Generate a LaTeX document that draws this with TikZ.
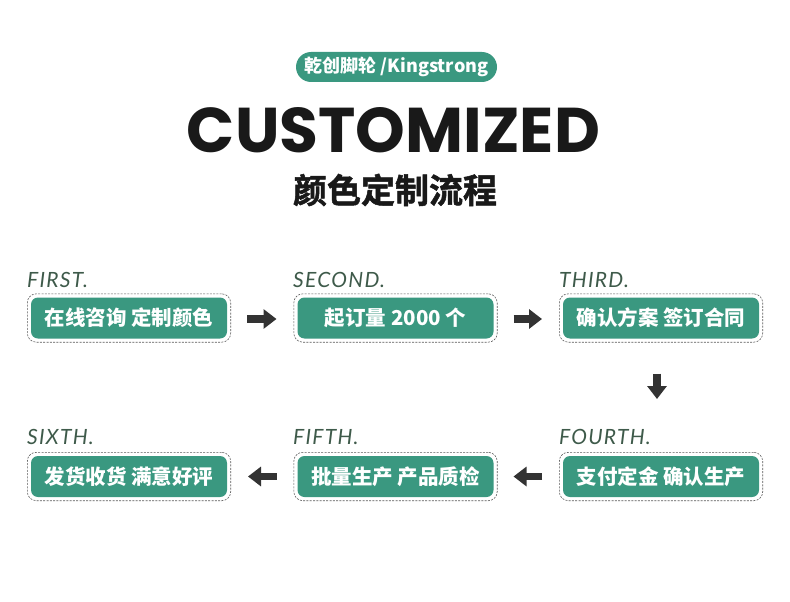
\documentclass[tikz,border=0pt]{standalone}
\usepackage{fontspec}
\usepackage{graphicx}
\usetikzlibrary{fit,arrows.meta,calc}
\newfontfamily\cjk{Noto Sans CJK SC}
\newfontfamily\cjkheavy[FakeBold=1.5]{Noto Sans CJK SC Bold}
\newfontfamily\poppins{Poppins}
\newfontfamily\lato[LetterSpace=6]{Lato}
\definecolor{kgreen}{RGB}{58,152,128}
\definecolor{klabel}{RGB}{62,90,74}
\definecolor{karrow}{RGB}{51,51,51}
\definecolor{kdash}{RGB}{90,90,90}
\begin{document}
\begin{tikzpicture}[x=1pt,y=-1pt,
  greenbox/.style={fill=kgreen,rounded corners=7pt,minimum width=196pt,minimum height=41pt,
    inner sep=0pt,text=white,font=\cjk\bfseries\fontsize{20.5}{22}\selectfont},
  dashbox/.style={draw=kdash,dash pattern=on 2pt off 1.3pt,line width=0.6pt,rounded corners=9pt,inner sep=3.5pt},
  steplabel/.style={anchor=base west,inner sep=0pt,text=klabel,font=\lato\itshape\fontsize{21}{23}\selectfont},
  flowarrow/.style={draw=karrow,line width=7.5pt,-{Triangle[length=13pt,width=19pt]}}
]
\useasboundingbox[fill=white] (0,0) rectangle (790,602);

% header
\node[fill=kgreen,rounded corners=15pt,minimum width=201pt,minimum height=30pt,inner sep=0pt,
  text=white,font=\cjk\bfseries\fontsize{18}{20}\selectfont] (pill) at (396.5,67) {乾创脚轮 /Kingstrong};
\node[inner sep=0pt,text=black!90] (title) at (393.5,130) {\resizebox{413pt}{45pt}{\poppins\bfseries CUSTOMIZED}};
\node[inner sep=0pt,text=black!90,font=\cjkheavy\fontsize{34}{36}\selectfont] (subtitle) at (395,190) {颜色定制流程};

% boxes
\node[greenbox] (b1) at (129,318) {在线咨询 定制颜色};
\node[greenbox] (b2) at (395.5,318) {起订量 2000 个};
\node[greenbox] (b3) at (661,318) {确认方案 签订合同};
\node[greenbox] (b4) at (661,476.5) {支付定金 确认生产};
\node[greenbox] (b5) at (395.5,476.5) {批量生产 产品质检};
\node[greenbox] (b6) at (129,476.5) {发货收货 满意好评};

\foreach \i in {1,...,6}{\node[dashbox,fit=(b\i)] (o\i) {};}

% labels
\node[steplabel] (l1) at (27,287) {FIRST.};
\node[steplabel] (l2) at (293,287) {SECOND.};
\node[steplabel] (l3) at (559,287) {THIRD.};
\node[steplabel] (l4) at (559,444.5) {FOURTH.};
\node[steplabel] (l5) at (293,444.5) {FIFTH.};
\node[steplabel] (l6) at (27,444.5) {SIXTH.};

% arrows
\draw[flowarrow,shorten <=16pt,shorten >=17pt] ($(o1.east)+(0,1)$) -- ($(o2.west)+(0,1)$);
\draw[flowarrow,shorten <=16pt,shorten >=17pt] ($(o2.east)+(0,1)$) -- ($(o3.west)+(0,1)$);
\draw[flowarrow,shorten <=31pt,shorten >=53pt] ($(o3.south)+(-4,0)$) -- ($(o4.north)+(-4,0)$);
\draw[flowarrow,shorten <=17pt,shorten >=16pt] (o4.west) -- (o5.east);
\draw[flowarrow,shorten <=17pt,shorten >=17pt] (o5.west) -- (o6.east);
\end{tikzpicture}
\end{document}
